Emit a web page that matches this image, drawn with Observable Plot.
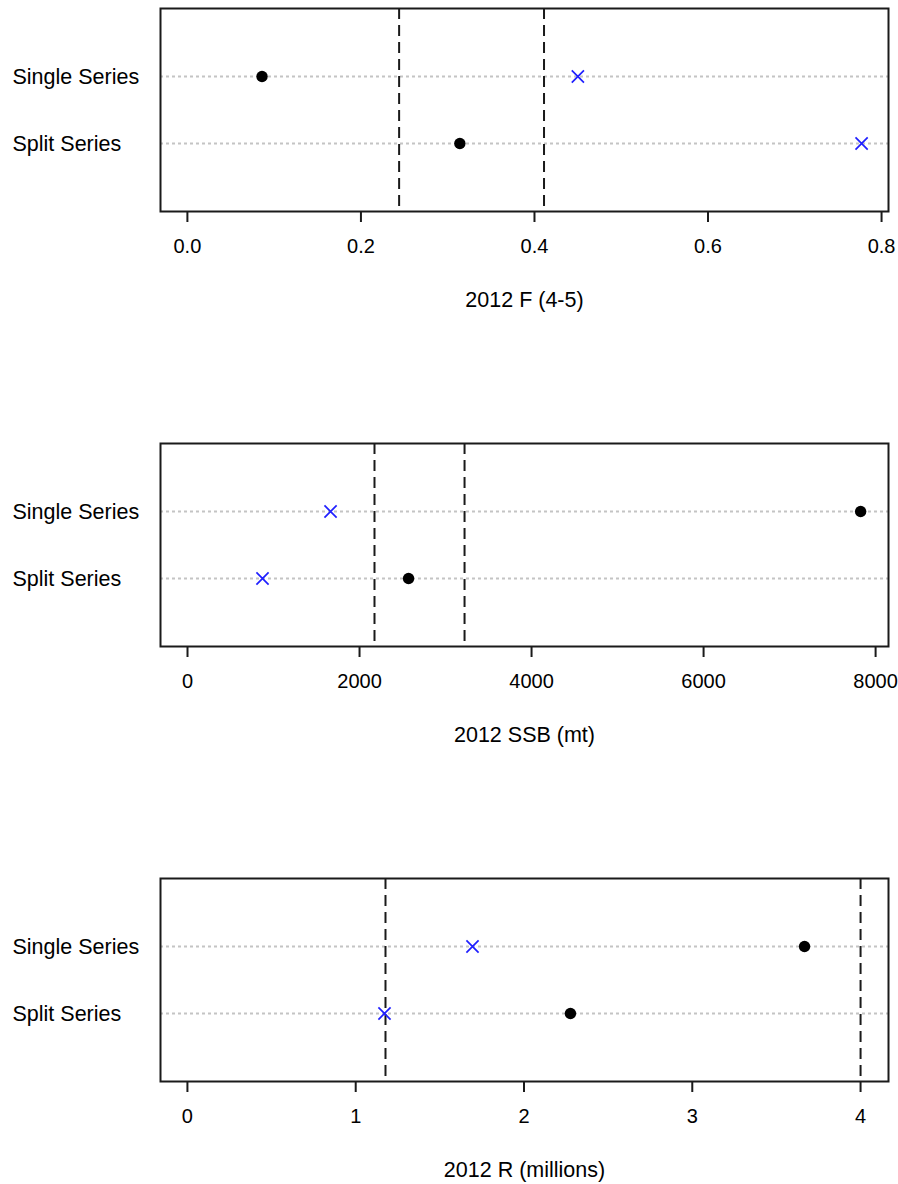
<!DOCTYPE html>
<html>
<head>
<meta charset="utf-8">
<script src="https://cdn.jsdelivr.net/npm/d3@7"></script>
<script src="https://cdn.jsdelivr.net/npm/@observablehq/plot@0.6"></script>
<style>
  html, body { margin: 0; padding: 0; background: #fff; }
  #chart svg { display: block; overflow: visible; }
</style>
</head>
<body>
<div id="chart"></div>
<script>
// Categories (rows, top to bottom)
const series = ["Single Series", "Split Series"];

// Panel titles
const titles = ["2012 F (4-5)", "2012 SSB (mt)", "2012 R (millions)"];

// Black dot estimates per row [Single, Split]
const dotF   = [0.086, 0.314];
const dotSSB = [7826, 2570];
const dotR   = [3.667, 2.276];

// Blue cross estimates per row [Single, Split]
const crossF   = [0.450, 0.777];
const crossSSB = [1663, 872];
const crossR   = [1.694, 1.171];

// Dashed reference lines
const refF   = [0.244, 0.411];
const refSSB = [2174, 3221];
const refR   = [1.177, 4.0];

// Axis ticks
const ticksF   = [0, 0.2, 0.4, 0.6, 0.8];
const ticksSSB = [0, 2000, 4000, 6000, 8000];
const ticksR   = [0, 1, 2, 3, 4];

const FONT = "'Liberation Sans', Arial, sans-serif";
const FS = 21.5;
const TFS = 20;

function panel({dots, crosses, refs, ticks, domain, fmt, title, height}) {
  const dotData = series.map((s, i) => ({series: s, value: dots[i]}));
  const crossData = series.map((s, i) => ({series: s, value: crosses[i]}));
  const boxH = 203;
  return Plot.plot({
    width: 898,
    height,
    marginLeft: 160,
    marginRight: 10,
    marginTop: 8,
    marginBottom: height - 8 - boxH,
    style: {fontFamily: FONT, fontSize: FS + "px", color: "#000", background: "#fff"},
    x: {domain, ticks, tickFormat: fmt},
    y: {type: "point", domain: series, padding: 1, axis: null},
    marks: [
      Plot.ruleY(series, {y: d => d, stroke: "#c4c4c4", strokeWidth: 2, strokeDasharray: "3,3"}),
      Plot.ruleX(refs, {x: d => d, stroke: "#1a1a1a", strokeWidth: 2, strokeDasharray: "11,6"}),
      Plot.dot(dotData, {x: "value", y: "series", r: 5.7, fill: "#000", stroke: "none"}),
      Plot.dot(crossData, {x: "value", y: "series", r: 5.6, symbol: "times", stroke: "#1f1fff", strokeWidth: 1.7}),
      Plot.text(series, {y: d => d, text: d => d, frameAnchor: "left", textAnchor: "start", dx: -148, dy: 1, fill: "#000", fontSize: FS}),
      Plot.axisX({ticks, tickFormat: fmt, tickSize: 11, tickPadding: 16, stroke: "#1a1a1a", strokeWidth: 2, fill: "#000", fontSize: TFS, label: null}),
      Plot.text([title], {frameAnchor: "bottom", dy: 89, text: d => d, fill: "#000", fontSize: FS, lineAnchor: "middle"}),
      Plot.frame({stroke: "#1a1a1a", strokeWidth: 2})
    ]
  });
}

const chart = document.getElementById("chart");
chart.append(panel({dots: dotF, crosses: crossF, refs: refF, ticks: ticksF, domain: [-0.031, 0.808], fmt: d3.format(".1f"), title: titles[0], height: 435}));
chart.append(panel({dots: dotSSB, crosses: crossSSB, refs: refSSB, ticks: ticksSSB, domain: [-314, 8150], fmt: d3.format("d"), title: titles[1], height: 435}));
chart.append(panel({dots: dotR, crosses: crossR, refs: refR, ticks: ticksR, domain: [-0.16, 4.166], fmt: d3.format("d"), title: titles[2], height: 314}));
</script>
</body>
</html>
